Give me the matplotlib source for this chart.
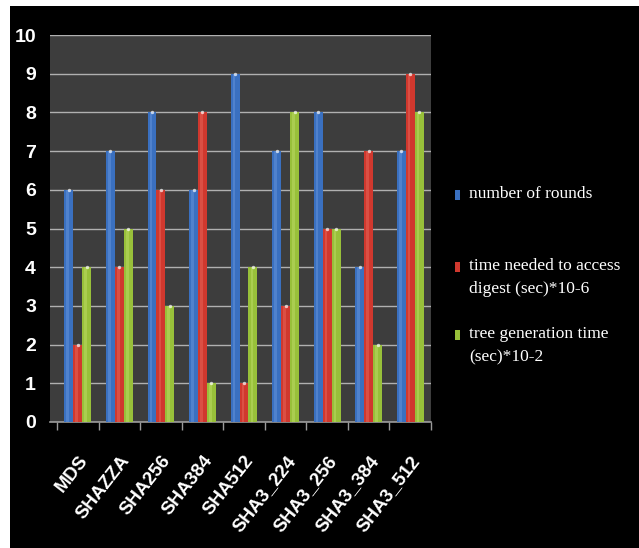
#imported libraries
import matplotlib
matplotlib.use('Agg')
import matplotlib.pyplot as plt
from matplotlib.patches import Rectangle
import numpy as np

#data
hashes = ['MDS', 'SHAZZA', 'SHA256', 'SHA384', 'SHA512',
          'SHA3_224', 'SHA3_256', 'SHA3_384', 'SHA3_512']
rounds = [6, 7, 8, 6, 9, 7, 8, 4, 7]
access_time = [2, 4, 6, 8, 1, 3, 5, 7, 9]
tree_time = [4, 5, 3, 1, 4, 8, 5, 2, 8]
series_names = ['number of rounds',
                'time needed to access\ndigest (sec)*10-6',
                'tree generation time\n(sec)*10-2']

colors = ['#3a70c0', '#d0382e', '#98c03a']
light = ['#7aa6e6', '#f07a6e', '#cde77a']

plt.rcParams['font.family'] = ['Liberation Sans', 'DejaVu Sans']

fig = plt.figure(figsize=(6.39, 5.48), dpi=100, facecolor='white')
#black backdrop, white strip at left and top
fig.patches.append(Rectangle((10 / 639, 0), 1, 1 - 6 / 548, transform=fig.transFigure,
                             facecolor='black', edgecolor='none', zorder=-10))

ax = fig.add_axes([50 / 639, 1 - 422 / 548, (431 - 50) / 639, (422 - 35) / 548])
ax.set_facecolor('#3d3d3d')

x = np.arange(len(hashes))
w = 0.215
for i, vals in enumerate([rounds, access_time, tree_time]):
    pos = x + (i - 1) * w
    ax.bar(pos, vals, width=w, color=colors[i], zorder=3)
    ax.bar(pos - w * 0.12, vals, width=w * 0.3, color=light[i], alpha=0.35, zorder=4)
    ax.scatter(pos, vals, s=6, color='white', alpha=0.7, zorder=5, linewidths=0)

ax.set_ylim(0, 10)
ax.set_xlim(-0.67, 8.5)
ax.set_yticks(range(11))
ax.yaxis.grid(True, color='#b0b0b0', linewidth=1, zorder=1)
ax.set_axisbelow(True)

for s in ['top', 'right', 'left']:
    ax.spines[s].set_visible(False)
ax.spines['bottom'].set_color('#9a9a9a')
ax.spines['bottom'].set_linewidth(1.2)

ax.set_xticks(np.arange(-0.5, 9, 1))
ax.set_xticklabels([])
ax.set_xticks(x, minor=True)
ax.set_xticklabels(hashes, minor=True, rotation=52, ha='right', va='top',
                   rotation_mode='anchor', color='white', fontsize=13.5, fontweight='bold')
ax.tick_params(axis='x', which='major', colors='#9a9a9a', length=6, width=1)
ax.tick_params(axis='x', which='minor', length=0, pad=22)
ax.tick_params(axis='y', length=0, pad=10, labelcolor='white', labelsize=14)
for lbl in ax.get_yticklabels():
    lbl.set_fontweight('bold')

#legend drawn at the right
leg_y = [195, 267, 335]
for i in range(3):
    fig.patches.append(Rectangle((455 / 639, 1 - (leg_y[i] + 5) / 548), 5 / 639, 10 / 548,
                                 transform=fig.transFigure, facecolor=colors[i],
                                 edgecolor='none', zorder=3))
    fig.text(469 / 639, 1 - (leg_y[i] - 9) / 548, series_names[i], color='white',
             family='Liberation Serif', fontsize=12.5, va='top', ha='left',
             linespacing=1.6)

#saving the figure
plt.savefig('out.png', dpi=100, facecolor=fig.get_facecolor())
